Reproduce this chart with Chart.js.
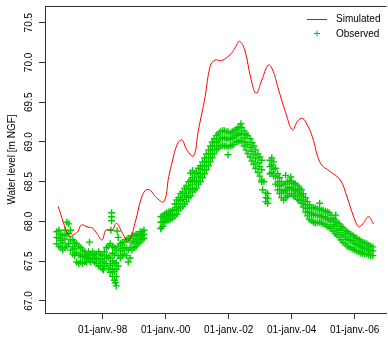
<!DOCTYPE html>
<html><head><meta charset="utf-8">
<script src="https://cdn.jsdelivr.net/npm/chart.js@4/dist/chart.umd.min.js"></script>
<style>
html,body{margin:0;padding:0;overflow:hidden;background:#fff;width:388px;height:347px}
#wrap{width:392px;height:347px}
</style>
</head><body><div id="wrap"><canvas id="c" width="392" height="347" style="width:392px;height:347px"></canvas></div>
<script>
// ---- data (decimal years / metres NGF) ----
const simDate = [1996.585,1996.93,1997.057,1997.204,1997.32,1997.528,1997.686,1997.833,1997.98,1998.107,1998.296,1998.44,1998.629,1998.818,1999.05,1999.208,1999.365,1999.522,1999.68,1999.94,2000.097,2000.223,2000.358,2000.516,2000.673,2000.884,2001.04,2001.252,2001.41,2001.566,2001.774,2002.088,2002.22,2002.346,2002.51,2002.717,2002.874,2003.053,2003.258,2003.40,2003.557,2003.818,2004.028,2004.186,2004.343,2004.5,2004.657,2004.918,2005.233,2005.547,2005.758,2005.969,2006.126,2006.26,2006.44,2006.6];
const simLevel = [68.19,67.81,67.83,67.87,67.955,67.93,67.914,67.84,67.767,67.893,67.893,67.977,67.85,67.745,68.018,68.27,68.395,68.387,68.31,68.25,68.563,68.773,68.962,69.025,68.899,68.824,69.15,69.569,69.947,70.031,70.022,70.115,70.194,70.266,70.157,69.779,69.612,69.779,69.968,69.905,69.695,69.36,69.15,69.263,69.297,69.213,69.066,68.731,68.626,68.521,68.31,68.06,67.934,67.97,68.06,67.968];

const obsDate = [1996.54,1996.61,1996.67,1996.73,1996.80,1996.86,1996.92,1996.98,1997.05,1997.11,1997.17,1997.24,1997.30,1997.36,1997.43,1997.49,1997.55,1997.61,1997.68,1997.74,1997.80,1997.87,1997.93,1997.99,1998.05,1998.12,1998.18,1998.24,1998.31,1998.37,1998.43,1998.49,1998.56,1998.62,1998.68,1998.75,1998.81,1998.87,1998.93,1999.00,1999.06,1999.12,1999.19,1999.25,1999.31,
1999.85,1999.91,1999.97,2000.03,2000.10,2000.16,2000.22,2000.29,2000.35,2000.41,2000.47,2000.54,2000.60,2000.66,2000.73,2000.79,2000.85,2000.92,2000.98,2001.04,2001.10,2001.17,2001.23,2001.29,2001.36,2001.42,2001.48,2001.54,2001.61,2001.67,2001.73,2001.80,2001.86,2001.92,2001.98,2002.05,2002.11,2002.17,2002.24,2002.30,2002.36,2002.42,2002.49,2002.55,2002.61,2002.68,2002.74,2002.80,2002.86,2002.93,2002.99,2003.05,2003.18,2003.24,2003.31,2003.37,2003.43,2003.49,2003.56,2003.62,2003.68,2003.75,2003.81,2003.87,2003.93,2004.00,2004.06,2004.12,2004.19,2004.25,2004.31,2004.37,2004.44,2004.50,2004.56,2004.63,2004.69,2004.75,2004.81,2004.88,2004.94,2005.00,2005.07,2005.13,2005.19,2005.25,2005.32,2005.38,2005.44,2005.51,2005.57,2005.63,2005.70,2005.76,2005.82,2005.88,2005.95,2006.01,2006.07,2006.14,2006.20,2006.26,2006.32,2006.39,2006.45,2006.51,2006.58];
const obsHigh = [67.87,67.89,67.84,67.82,67.89,67.99,67.97,67.89,67.77,67.74,67.72,67.69,67.67,67.64,67.62,67.59,67.62,67.59,67.62,67.59,67.59,67.62,67.59,67.57,67.62,67.67,67.69,67.72,67.69,67.67,67.64,67.69,67.72,67.74,67.74,67.77,67.79,67.79,67.82,67.82,67.84,67.84,67.87,67.87,67.89,
68.06,68.07,68.09,68.11,68.12,68.13,68.14,68.22,68.27,68.30,68.35,68.37,68.42,68.45,68.50,68.52,68.55,68.60,68.62,68.67,68.70,68.75,68.80,68.85,68.90,68.95,69.00,69.04,69.08,69.10,69.13,69.14,69.14,69.13,69.13,69.11,69.13,69.14,69.16,69.18,69.19,69.18,69.14,69.10,69.08,69.04,68.99,68.95,68.90,68.85,68.81,68.77,68.36,68.35,68.77,68.80,68.75,68.67,68.60,68.55,68.50,68.47,68.47,68.50,68.51,68.50,68.48,68.47,68.45,68.42,68.40,68.35,68.30,68.25,68.21,68.18,68.17,68.17,68.16,68.16,68.14,68.14,68.13,68.12,68.11,68.08,68.04,68.02,67.99,67.97,67.94,67.92,67.89,67.87,67.85,67.84,67.82,67.80,67.79,67.77,67.75,67.74,67.73,67.72,67.70,67.69,67.68];
const obsMid = [67.80,67.79,67.76,67.73,67.78,67.84,67.85,67.77,67.68,67.66,67.61,67.58,67.58,67.56,67.56,67.54,67.57,67.54,67.57,67.54,67.53,67.53,67.52,67.49,67.53,67.57,67.55,67.54,67.50,67.47,67.48,67.57,67.63,67.66,67.67,67.67,67.64,67.67,67.73,67.75,67.77,67.78,67.81,67.82,67.84,
67.99,68.00,68.04,68.06,68.07,68.08,68.09,68.15,68.18,68.22,68.26,68.28,68.32,68.35,68.40,68.42,68.46,68.50,68.52,68.57,68.60,68.65,68.70,68.75,68.80,68.85,68.90,68.95,68.99,69.01,69.04,69.05,69.05,69.04,69.04,69.03,69.05,69.06,69.08,69.10,69.11,69.09,69.05,69.00,68.97,68.93,68.88,68.84,68.79,68.74,68.69,68.65,68.30,68.29,68.69,68.71,68.66,68.57,68.50,68.45,68.40,68.37,68.39,68.41,68.43,68.42,68.40,68.39,68.37,68.34,68.32,68.27,68.21,68.16,68.12,68.10,68.08,68.08,68.08,68.08,68.06,68.06,68.05,68.03,68.02,68.00,67.96,67.94,67.91,67.89,67.86,67.83,67.81,67.78,67.77,67.76,67.74,67.72,67.71,67.70,67.68,67.67,67.66,67.66,67.64,67.63,67.63];
const obsLow = [67.72,67.69,67.67,67.64,67.67,67.69,67.72,67.64,67.59,67.57,67.49,67.47,67.49,67.47,67.49,67.49,67.52,67.49,67.52,67.49,67.47,67.44,67.44,67.41,67.44,67.47,67.41,67.36,67.31,67.26,67.31,67.44,67.54,67.57,67.59,67.57,67.49,67.54,67.64,67.67,67.69,67.72,67.74,67.77,67.79,
67.92,67.94,67.99,68.01,68.02,68.03,68.04,68.07,68.09,68.14,68.17,68.19,68.22,68.25,68.30,68.32,68.37,68.40,68.42,68.47,68.50,68.55,68.60,68.65,68.70,68.75,68.80,68.85,68.90,68.92,68.95,68.96,68.95,68.95,68.94,68.95,68.96,68.97,69.00,69.01,69.02,69.00,68.95,68.90,68.85,68.81,68.76,68.72,68.67,68.62,68.57,68.52,68.25,68.23,68.60,68.62,68.57,68.47,68.40,68.35,68.30,68.27,68.30,68.32,68.35,68.35,68.32,68.31,68.28,68.26,68.23,68.18,68.12,68.07,68.03,68.01,67.99,67.98,67.99,67.99,67.98,67.97,67.96,67.94,67.93,67.91,67.88,67.85,67.83,67.80,67.77,67.74,67.72,67.69,67.68,67.67,67.65,67.64,67.63,67.62,67.60,67.60,67.59,67.59,67.58,67.57,67.57];
const obsExtraDate  = [1998.28,1998.28,1998.28,1998.26,1998.46,1998.49,1997.58,1998.02,1998.40,1998.43,1998.24,1998.31,1998.37,1998.43,1998.31,1998.37,
1999.85,2000.79,2000.85,2001.98,2002.39,2003.05,2003.08,2003.12,2003.81,2003.97,2004.89,2005.40];
const obsExtraLevel = [68.11,68.06,68.01,67.89,67.88,67.80,67.74,67.39,67.23,67.19,67.45,67.40,67.37,67.40,67.60,67.58,
67.91,68.61,68.64,68.84,69.23,68.50,68.40,68.50,68.58,68.56,68.23,68.08];

const xTickYears  = [1998, 2000, 2002, 2004, 2006];
const xTickLabels = ['01-janv.-98','01-janv.-00','01-janv.-02','01-janv.-04','01-janv.-06'];
const yTickValues = [67.0, 67.5, 68.0, 68.5, 69.0, 69.5, 70.0, 70.5];
const seriesNames = ['Simulated', 'Observed'];
const yTitle = 'Water level [m NGF]';

// ---- build ----
const FONT = "'Liberation Sans', Arial, Helvetica, sans-serif";
const RED = '#FF0000', GREEN = '#00CD00', AXIS = '#333333';

const simData = simDate.map((d, i) => ({x: d, y: simLevel[i]}));
const obsData = [];
obsDate.forEach((d, i) => {
  obsData.push({x: d, y: obsHigh[i]});
  obsData.push({x: d, y: obsMid[i]});
  obsData.push({x: d, y: obsLow[i]});
});
obsExtraDate.forEach((d, i) => obsData.push({x: d, y: obsExtraLevel[i]}));

const boxPlugin = {
  id: 'box',
  afterDatasetsDraw(chart) {
    const {ctx, chartArea: a} = chart;
    ctx.save();
    ctx.strokeStyle = AXIS; ctx.lineWidth = 1;
    ctx.beginPath();
    ctx.moveTo(a.left, Math.round(a.top) + 0.5);
    ctx.lineTo(a.right, Math.round(a.top) + 0.5);
    ctx.stroke();
    ctx.restore();
  }
};

const legendPlugin = {
  id: 'rlegend',
  afterDraw(chart) {
    const ctx = chart.ctx;
    ctx.save();
    ctx.strokeStyle = RED; ctx.lineWidth = 1;
    ctx.beginPath(); ctx.moveTo(307, 19.5); ctx.lineTo(327, 19.5); ctx.stroke();
    ctx.strokeStyle = GREEN; ctx.fillStyle = GREEN;
    Chart.helpers.drawPoint(ctx, {pointStyle: 'cross', radius: 3, rotation: 0, borderWidth: 1}, 317, 33.5);
    ctx.fillStyle = '#000';
    ctx.font = '10px ' + FONT;
    ctx.textAlign = 'left'; ctx.textBaseline = 'middle';
    ctx.fillText(seriesNames[0], 336, 19);
    ctx.fillText(seriesNames[1], 336, 34);
    ctx.restore();
  }
};

new Chart(document.getElementById('c'), {
  type: 'scatter',
  data: {
    datasets: [
      {label: seriesNames[0], data: simData, showLine: true, borderColor: RED, borderWidth: 1,
       pointRadius: 0, tension: 0.4, fill: false},
      {label: seriesNames[1], data: obsData, showLine: false, pointStyle: 'cross', pointRadius: 3.5,
       borderColor: GREEN, backgroundColor: GREEN, pointBorderWidth: 1.4}
    ]
  },
  options: {
    responsive: false, animation: false, devicePixelRatio: 1,
    layout: {padding: {left: 0, top: 6, right: 2, bottom: 0}},
    plugins: {legend: {display: false}, tooltip: {enabled: false}},
    scales: {
      x: {
        type: 'linear', min: 1996.167, max: 2007.016,
        afterBuildTicks: s => { s.ticks = xTickYears.map(v => ({value: v})); },
        afterFit: s => { s.height = 34; },
        ticks: {callback: (v, i) => xTickLabels[i], autoSkip: false, maxRotation: 0, minRotation: 0,
                color: '#000', font: {family: FONT, size: 10}, padding: 5},
        grid: {display: true, drawOnChartArea: false, drawTicks: true, tickLength: 6, tickColor: AXIS},
        border: {display: true, color: AXIS, width: 1}
      },
      y: {
        type: 'linear', min: 66.849, max: 70.71,
        afterBuildTicks: s => { s.ticks = yTickValues.map(v => ({value: v})); },
        afterFit: s => { s.width = 45; },
        ticks: {callback: (v, i) => yTickValues[i].toFixed(1), autoSkip: false, minRotation: 90, maxRotation: 90,
                crossAlign: 'center', color: '#000', font: {family: FONT, size: 10}, padding: 0},
        title: {display: true, text: yTitle, color: '#000', font: {family: FONT, size: 10}, padding: {top: 6, bottom: 0}},
        grid: {display: true, drawOnChartArea: false, drawTicks: true, tickLength: 6, tickColor: AXIS},
        border: {display: true, color: AXIS, width: 1}
      }
    }
  },
  plugins: [boxPlugin, legendPlugin]
});
</script>
</body></html>
